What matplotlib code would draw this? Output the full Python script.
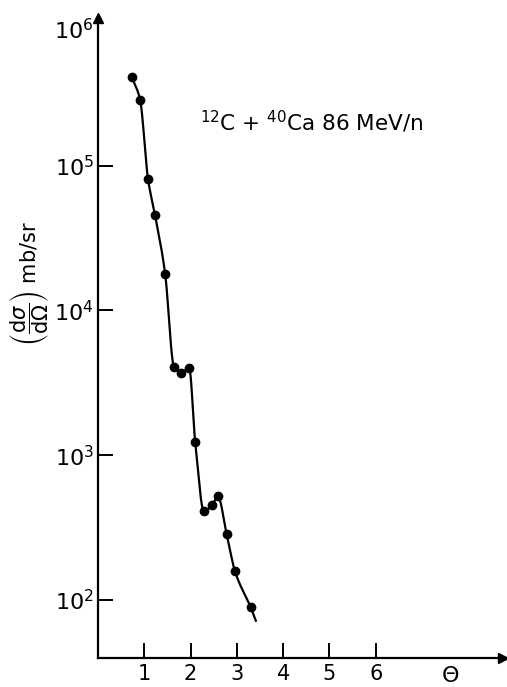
import matplotlib
matplotlib.use("Agg")
import matplotlib.pyplot as plt
import numpy as np

# angle (deg) and cross section (mb/sr)
theta = [0.73, 0.91, 1.08, 1.23, 1.45, 1.64, 1.79, 1.97, 2.10, 2.29, 2.46, 2.59, 2.78, 2.96, 3.30]
sigma = [4.1e5, 2.85e5, 8.1e4, 4.6e4, 1.8e4, 4.1e3, 3.7e3, 4.0e3, 1.23e3, 4.1e2, 4.5e2, 5.2e2, 2.85e2, 1.58e2, 89]
# where the drawn curve stops past the last point
curve_end = (3.41, 72)

xticks = [1, 2, 3, 4, 5, 6]
yticks = [1e2, 1e3, 1e4, 1e5]


def pchip(x, y, xn):
    # monotone cubic through the points (Fritsch-Carlson)
    x = np.asarray(x, float)
    y = np.asarray(y, float)
    h = np.diff(x)
    d = np.diff(y) / h
    m = np.zeros_like(y)
    for k in range(1, len(x) - 1):
        if d[k - 1] * d[k] > 0:
            w1 = 2 * h[k] + h[k - 1]
            w2 = h[k] + 2 * h[k - 1]
            m[k] = (w1 + w2) / (w1 / d[k - 1] + w2 / d[k])
    m[0] = d[0]
    m[-1] = d[-1]
    idx = np.clip(np.searchsorted(x, xn) - 1, 0, len(x) - 2)
    t = (xn - x[idx]) / h[idx]
    h00 = 2 * t**3 - 3 * t**2 + 1
    h10 = t**3 - 2 * t**2 + t
    h01 = -2 * t**3 + 3 * t**2
    h11 = t**3 - t**2
    return h00 * y[idx] + h10 * h[idx] * m[idx] + h01 * y[idx + 1] + h11 * h[idx] * m[idx + 1]


cx = theta + [curve_end[0]]
cy = np.log10(sigma + [curve_end[1]])
xs = np.linspace(cx[0], cx[-1], 400)
ys = 10 ** pchip(cx, cy, xs)

plt.rcParams['font.family'] = ['DejaVu Sans']
plt.rcParams['mathtext.fontset'] = 'dejavusans'

fig = plt.figure(figsize=(5.07, 6.87), dpi=100)
ax = fig.add_axes([98 / 507, 29 / 687, 405 / 507, 640 / 687])

ax.plot(xs, ys, color='black', lw=1.6)
ax.plot(theta, sigma, 'o', color='black', ms=6)

ax.set_yscale('log')
ax.set_xlim(0, 8.75)
ax.set_ylim(10 ** 1.6, 10 ** 6.02)

for s in ['top', 'right']:
    ax.spines[s].set_visible(False)
for s in ['left', 'bottom']:
    ax.spines[s].set_linewidth(1.6)

ax.set_xticks(xticks)
ax.set_xticklabels([str(v) for v in xticks], fontsize=15)
ax.set_yticks(yticks)
ax.set_yticklabels([r'$10^{%d}$' % int(np.log10(v)) for v in yticks], fontsize=16)
ax.yaxis.set_minor_locator(matplotlib.ticker.NullLocator())
ax.tick_params(axis='both', direction='in', length=11, width=1.4, pad=4)
ax.tick_params(axis='y', pad=3)

# arrow heads on the axes
ax.plot(1, 0, '>', color='black', ms=7, transform=ax.transAxes, clip_on=False)
ax.plot(0, 1, '^', color='black', ms=7, transform=ax.transAxes, clip_on=False)

ax.text(-0.012, 10 ** 5.93, r'$10^{6}$', fontsize=16, ha='right', va='center',
        transform=ax.get_yaxis_transform())
ax.text(7.6, -0.012, r'$\Theta$', fontsize=16, ha='center', va='top',
        transform=ax.get_xaxis_transform())
ax.text(2.2, 10 ** 5.3, r'$^{12}$C + $^{40}$Ca 86 MeV/n', fontsize=15.5, ha='left', va='center')

fig.text(30 / 507, 1 - 283 / 687,
         r'$\left(\dfrac{\mathrm{d}\sigma}{\mathrm{d}\Omega}\right)$ mb/sr',
         rotation=90, fontsize=15, ha='center', va='center')

fig.savefig('out.png', dpi=100)
